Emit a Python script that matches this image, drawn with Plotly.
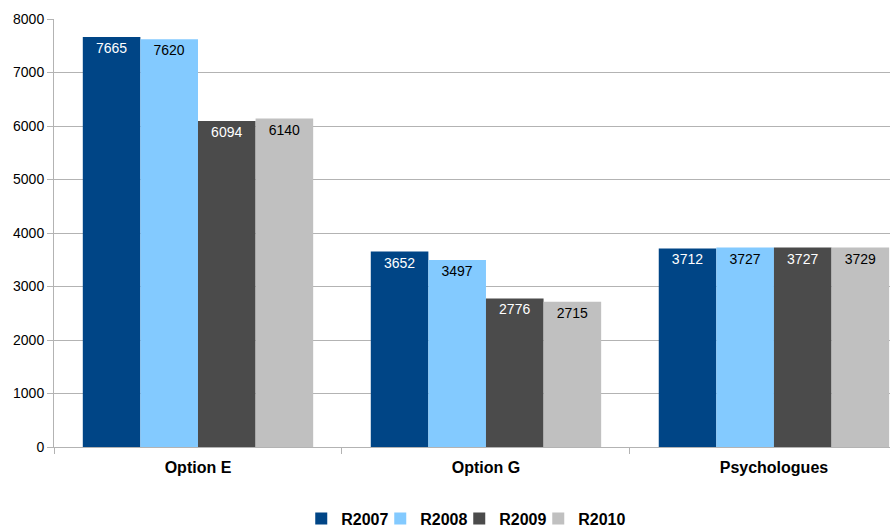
import plotly.graph_objects as go

categories = ["Option E", "Option G", "Psychologues"]
series_names = ["R2007", "R2008", "R2009", "R2010"]
r2007 = [7665, 3652, 3712]
r2008 = [7620, 3497, 3727]
r2009 = [6094, 2776, 3727]
r2010 = [6140, 2715, 3729]
y_ticks = [0, 1000, 2000, 3000, 4000, 5000, 6000, 7000, 8000]

colors = ["#004586", "#83CAFF", "#4B4B4B", "#C0C0C0"]
text_colors = ["white", "black", "white", "black"]

fig = go.Figure()
for name, vals, c, tc in zip(series_names, [r2007, r2008, r2009, r2010], colors, text_colors):
    fig.add_trace(go.Bar(
        name=name, x=categories, y=vals,
        marker=dict(color=c, line=dict(width=0)),
        text=[str(v) for v in vals],
        textposition="inside", insidetextanchor="end",
        textangle=0,
        textfont=dict(family="Liberation Sans, Arial, sans-serif", size=14, color=tc),
    ))

# invisible spacer entry so the last legend label is not clipped
fig.add_trace(go.Scatter(
    x=[None], y=[None], name=" ", mode="markers",
    marker=dict(color="rgba(0,0,0,0)"), visible="legendonly",
    hoverinfo="skip",
))

fig.update_layout(
    width=893, height=529,
    margin=dict(l=54, r=3, t=19, b=82, autoexpand=False),
    barmode="group", bargap=0.2, bargroupgap=0,
    plot_bgcolor="white", paper_bgcolor="white",
    font=dict(family="Liberation Sans, Arial, sans-serif", size=14, color="black"),
    xaxis=dict(
        range=[-0.5, 2.403],
        showline=True, linecolor="#B3B3B3", linewidth=1,
        ticks="outside", tickson="boundaries", ticklen=6, tickcolor="#B3B3B3",
        ticklabelstandoff=6,
        tickfont=dict(size=16, family="Liberation Sans, Arial, sans-serif", color="black", weight="bold"),
        showgrid=False, zeroline=False,
    ),
    yaxis=dict(
        range=[0, 8000], tickvals=y_ticks,
        showline=True, linecolor="#B3B3B3", linewidth=1,
        ticks="outside", ticklen=6, tickcolor="#B3B3B3",
        showgrid=True, gridcolor="#B3B3B3", gridwidth=1,
        zeroline=False,
        tickfont=dict(size=14, color="black"),
    ),
    legend=dict(
        orientation="h", x=0.532, xanchor="center",
        yref="container", y=0.052, yanchor="top",
        font=dict(size=16, color="black", weight="bold"),
        entrywidth=34, itemwidth=30, traceorder="normal",
        itemclick=False, itemdoubleclick=False,
    ),
)

fig.write_html("out.html")
